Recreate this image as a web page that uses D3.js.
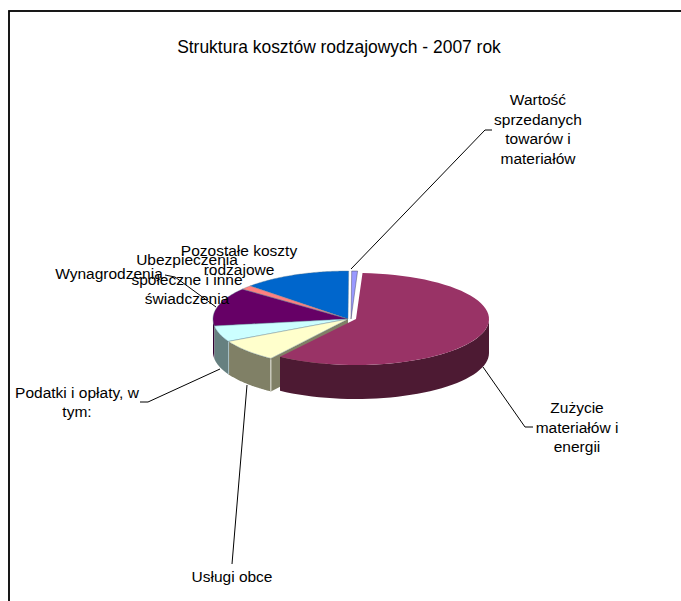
<!DOCTYPE html>
<html><head><meta charset="utf-8"><script src="https://cdn.jsdelivr.net/npm/d3@7"></script>
<style>html,body{margin:0;padding:0;background:#fff}svg{display:block}</style></head>
<body><div id="c"></div>
<script>
const chartTitle = "Struktura kosztów rodzajowych - 2007 rok";
const categories = ["Wartość sprzedanych towarów i materiałów","Zużycie materiałów i energii","Usługi obce","Podatki i opłaty, w tym:","Wynagrodzenia","Ubezpieczenia społeczne i inne świadczenia","Pozostałe koszty rodzajowe"];
const values = [0.7,58.9,7.6,5.4,13.0,1.4,13.0];
const topColors = ["#9999FF","#993366","#FFFFCC","#CCFFFF","#660066","#FF8080","#0066CC"];
const wallColors = ["#4D4D80","#4D1A33","#808066","#668080","#330033","#804040","#003366"];
const labelLines = [["Wartość","sprzedanych","towarów i","materiałów"],["Zużycie","materiałów i","energii"],["Usługi obce"],["Podatki i opłaty, w","tym:"],["Wynagrodzenia"],["Ubezpieczenia","społeczne i inne","świadczenia"],["Pozostałe koszty","rodzajowe"]];
const labelPos = [[538,105],[577,413],[232,582],[77,398],[109,279],[187,265],[239,256]];
const labelStep = [19.5,19.5,0,19,0,19.5,19];
const leaders = [[[351,269],[485,130],[492,130]],[[483,367],[525,427],[533,427]],[[247,385],[232,564]],[[220,369],[148,402],[140,402]],[[216,307],[175,277],[165,275]],null,null];

const W=681,H=601,cx=348,cy=319,rx=135,ry=48,depth=33;
const explode=[[3,0],[8,0],[0,0],[0,0],[0,0],[0,0],[0,0]];
const svg=d3.select("#c").append("svg").attr("width",W).attr("height",H);
svg.append("rect").attr("x",9).attr("y",11).attr("width",700).attr("height",640).attr("fill","#fff").attr("stroke","#000").attr("stroke-width",1.8);
svg.append("text").attr("x",339).attr("y",52.5).attr("text-anchor","middle").attr("font-family","Liberation Sans").attr("font-size",17.45).attr("fill","#000").text(chartTitle);

const arcs=d3.pie().sort(null).value(d=>d).startAngle(0.005).endAngle(2*Math.PI+0.005)(values);
const pt=(t,dx,r,h,d=0)=>[cx+dx+r*Math.sin(t),cy-h*Math.cos(t)+d];
const line=d3.line();
function wallPath(a,dx,r,h,dp){
  const s=Math.max(a.startAngle,Math.PI/2),e=Math.min(a.endAngle,3*Math.PI/2);
  if(e<=s) return null;
  const ts=d3.range(0,41).map(i=>s+(e-s)*i/40);
  return line([...ts.map(t=>pt(t,dx,r,h)),...ts.slice().reverse().map(t=>pt(t,dx,r,h,dp))])+"Z";
}
function topPath(a,dx,r,h){
  const ts=d3.range(0,61).map(i=>a.startAngle+(a.endAngle-a.startAngle)*i/60);
  return line([[cx+dx,cy],...ts.map(t=>pt(t,dx,r,h))])+"Z";
}
const order=[6,5,0,4,3,2];
const g=svg.append("g");
order.forEach(i=>{const a=arcs[i],dx=explode[i][0];
  const w=wallPath(a,dx,rx,ry,depth); if(w) g.append("path").attr("d",w).attr("fill",wallColors[i]);
});
// cut face of "Usługi obce" exposed by the pulled-out slice
{const a=arcs[2];const p=pt(a.startAngle,0,rx,ry);
 g.append("path").attr("d",line([p,[cx,cy],[cx,cy+depth],[p[0],p[1]+depth]])+"Z").attr("fill",wallColors[2]);
 g.append("line").attr("x1",p[0]).attr("y1",p[1]+1).attr("x2",p[0]).attr("y2",p[1]+depth).attr("stroke","#e8e8e0").attr("stroke-width",1);}
// seam between Podatki and Usługi walls
{const p=pt(arcs[3].startAngle,0,rx,ry);
 g.append("line").attr("x1",p[0]).attr("y1",p[1]).attr("x2",p[0]).attr("y2",p[1]+depth).attr("stroke","#a8c0c8").attr("stroke-width",1);}
order.forEach(i=>{const a=arcs[i],dx=explode[i][0];
  g.append("path").attr("d",topPath(a,dx,rx,ry)).attr("fill",topColors[i]).attr("stroke",i==0?"#334":"#5a7a90").attr("stroke-width",0.4);
});
// pulled-out main slice
{const a=arcs[1],dx=explode[1][0];
 g.append("path").attr("d",wallPath(a,dx,133,46,34)).attr("fill",wallColors[1]);
 g.append("path").attr("d",topPath(a,dx,133,46)).attr("fill",topColors[1]);}
leaders.forEach(l=>{if(l) svg.append("path").attr("d",line(l)).attr("fill","none").attr("stroke","#000").attr("stroke-width",1);});
categories.forEach((c,i)=>{
  const t=svg.append("text").attr("font-family","Liberation Sans").attr("font-size",15.5).attr("fill","#000").attr("text-anchor","middle").attr("aria-label",c);
  labelLines[i].forEach((s,j)=>t.append("tspan").attr("x",labelPos[i][0]).attr("y",labelPos[i][1]+j*labelStep[i]).text(s));
});
</script></body></html>
